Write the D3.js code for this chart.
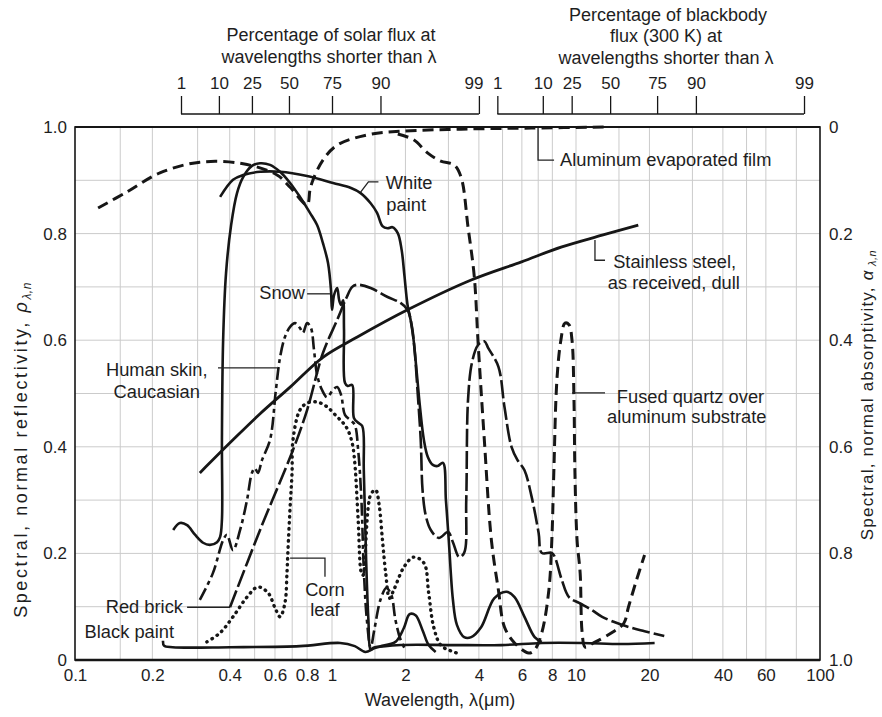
<!DOCTYPE html>
<html><head><meta charset="utf-8">
<script src="https://cdn.jsdelivr.net/npm/d3@7"></script>
<style>
body{margin:0;background:#fff;}
svg text{font-family:"Liberation Sans", Arial, sans-serif;fill:#1e1e1e;}
</style></head><body>
<svg id="c" width="882" height="717"></svg>
<script>
// ---------------- data ----------------
const xTickValues = [0.1,0.2,0.4,0.6,0.8,1,2,4,6,8,10,20,40,60,100];
const xGridValues = [0.15,0.2,0.3,0.4,0.5,0.6,0.7,0.8,1,1.5,2,3,4,5,6,7,8,10,15,20,30,40,50,60,80];
const yTickValues = [0,0.2,0.4,0.6,0.8,1.0];
const yGridValues = [0.1,0.2,0.3,0.4,0.5,0.6,0.7,0.8,0.9];
const solarPct = ["1","10","25","50","75","90","99"];
const solarWl  = [0.2585,0.363,0.488,0.68,1.0,1.58,4.0];
const bbPct    = ["1","10","25","50","75","90","99"];
const bbWl     = [4.76,7.31,9.6,13.8,21.5,31,86];

// spectral normal reflectivity curves [wavelength (um), reflectivity]
const aluminum = [[0.123,0.848],[0.159,0.878],[0.214,0.914],[0.306,0.934],[0.451,0.931],[0.611,0.910],[0.687,0.887],[0.80,0.854],[0.821,0.882],[0.844,0.901],[0.922,0.938],[1.05,0.966],[1.39,0.985],[1.91,0.992],[3.38,0.996],[6.58,0.998],[13.7,1.0]];
const fusedQuartz = [[1.86,0.987],[2.16,0.976],[2.47,0.951],[2.79,0.936],[3.16,0.929],[3.38,0.906],[3.61,0.812],[3.83,0.719],[3.97,0.595],[4.21,0.413],[4.50,0.225],[4.81,0.131],[5.09,0.062],[5.60,0.032],[6.40,0.013],[6.77,0.019],[7.24,0.051],[7.74,0.131],[7.96,0.225],[8.11,0.351],[8.35,0.525],[8.67,0.600],[9.01,0.632],[9.36,0.629],[9.63,0.600],[9.81,0.488],[9.9,0.351],[10.1,0.225],[10.4,0.163],[10.6,0.051],[10.9,0.024],[11.8,0.032],[14.0,0.051],[15.7,0.069],[16.4,0.099],[17.7,0.150],[19.1,0.197]];
const whitePaint = [[0.367,0.869],[0.412,0.901],[0.451,0.910],[0.525,0.916],[0.628,0.916],[0.80,0.908],[1.01,0.895],[1.19,0.886],[1.31,0.876],[1.44,0.857],[1.53,0.839],[1.61,0.814],[1.69,0.810],[1.77,0.812],[1.86,0.801],[1.93,0.769],[1.98,0.722],[2.04,0.666],[2.10,0.638],[2.16,0.600],[2.22,0.544],[2.29,0.478],[2.38,0.413],[2.47,0.381],[2.59,0.366],[2.71,0.364],[2.85,0.370],[2.93,0.300],[3.01,0.225],[3.13,0.113],[3.25,0.066],[3.48,0.043],[3.72,0.043],[4.09,0.062],[4.63,0.116],[5.19,0.128],[5.60,0.118],[6.15,0.081],[6.77,0.043],[7.24,0.034]];
const snow = [[0.241,0.244],[0.256,0.257],[0.273,0.253],[0.293,0.235],[0.315,0.220],[0.335,0.216],[0.357,0.221],[0.367,0.231],[0.373,0.263],[0.373,0.413],[0.377,0.600],[0.387,0.726],[0.405,0.816],[0.427,0.876],[0.451,0.906],[0.488,0.927],[0.525,0.932],[0.574,0.929],[0.628,0.916],[0.687,0.895],[0.750,0.869],[0.821,0.839],[0.875,0.816],[0.922,0.782],[0.965,0.745],[0.991,0.694],[1.0,0.657],[1.02,0.685],[1.05,0.698],[1.07,0.675],[1.09,0.666],[1.11,0.675],[1.12,0.619],[1.13,0.520],[1.16,0.514],[1.21,0.516],[1.23,0.454],[1.28,0.445],[1.33,0.439],[1.35,0.356],[1.38,0.188],[1.41,0.075],[1.44,0.019],[1.48,0.023],[1.58,0.026],[1.82,0.034],[1.97,0.06],[2.08,0.086],[2.20,0.084],[2.35,0.056],[2.49,0.028],[2.66,0.015]];
const stainlessSteel = [[0.306,0.351],[0.412,0.413],[0.525,0.462],[0.687,0.512],[0.922,0.568],[1.27,0.606],[2.04,0.657],[3.72,0.713],[5.98,0.747],[8.75,0.775],[12.8,0.797],[18.0,0.816]];
const humanSkin = [[0.306,0.113],[0.344,0.163],[0.377,0.225],[0.390,0.235],[0.412,0.206],[0.439,0.244],[0.467,0.300],[0.488,0.351],[0.501,0.360],[0.515,0.351],[0.534,0.375],[0.574,0.413],[0.605,0.507],[0.628,0.568],[0.656,0.606],[0.687,0.625],[0.718,0.632],[0.750,0.623],[0.771,0.614],[0.80,0.632],[0.828,0.623],[0.851,0.582],[0.875,0.535],[0.914,0.507],[0.957,0.493],[1.01,0.507],[1.05,0.512],[1.09,0.497],[1.13,0.460],[1.19,0.450],[1.24,0.441],[1.28,0.394],[1.32,0.300],[1.35,0.169],[1.39,0.075],[1.44,0.023],[1.49,0.056],[1.58,0.113],[1.67,0.135],[1.75,0.122],[1.82,0.075],[1.91,0.038],[2.0,0.019]];
const redBrick = [[0.401,0.099],[0.525,0.244],[0.705,0.394],[0.80,0.469],[0.922,0.576],[1.05,0.638],[1.15,0.681],[1.21,0.700],[1.27,0.704],[1.44,0.698],[1.69,0.681],[1.91,0.670],[2.04,0.657],[2.12,0.629],[2.18,0.582],[2.24,0.507],[2.31,0.413],[2.35,0.319],[2.42,0.272],[2.54,0.244],[2.74,0.229],[2.99,0.240],[3.13,0.221],[3.32,0.193],[3.48,0.201],[3.55,0.300],[3.61,0.488],[3.75,0.559],[3.97,0.591],[4.21,0.598],[4.37,0.585],[4.81,0.550],[5.09,0.475],[5.44,0.400],[5.76,0.375],[6.15,0.356],[6.58,0.306],[7.03,0.238],[7.24,0.201],[7.96,0.201],[8.19,0.193],[8.75,0.150],[9.36,0.118],[10.3,0.107],[11.6,0.094],[12.8,0.081],[15.4,0.066],[19.1,0.054],[23.0,0.045]];
const cornLeaf = [[0.326,0.034],[0.367,0.051],[0.412,0.081],[0.467,0.118],[0.515,0.137],[0.564,0.126],[0.600,0.098],[0.628,0.081],[0.656,0.107],[0.668,0.163],[0.674,0.206],[0.687,0.287],[0.699,0.351],[0.705,0.413],[0.750,0.469],[0.80,0.482],[0.875,0.484],[0.957,0.475],[1.05,0.456],[1.11,0.445],[1.16,0.432],[1.21,0.407],[1.24,0.370],[1.28,0.263],[1.32,0.163],[1.34,0.159],[1.44,0.310],[1.51,0.319],[1.56,0.291],[1.61,0.225],[1.66,0.163],[1.72,0.116],[1.79,0.131],[1.97,0.174],[2.16,0.193],[2.38,0.182],[2.49,0.126],[2.61,0.062],[2.79,0.028],[3.07,0.017],[3.38,0.011]];
const blackPaint = [[0.220,0.036],[0.222,0.027],[0.240,0.024],[0.401,0.024],[0.75,0.026],[1.08,0.032],[1.24,0.026],[1.37,0.015],[1.51,0.023],[1.91,0.028],[3.07,0.028],[4.94,0.028],[7.24,0.032],[10.6,0.032],[15.4,0.030],[21.0,0.032]];

// annotations: text lines with anchor [wavelength, reflectivity]
const annotations = [
  {lines:["White","paint"], at:[[1.66,0.884],[1.67,0.842]], anchor:"start", leader:[[1.55,0.897],[1.41,0.897],[1.31,0.878]]},
  {lines:["Snow"], at:[[0.785,0.677]], anchor:"end", leader:[[0.80,0.687],[0.982,0.687]]},
  {lines:["Aluminum evaporated film"], at:[[8.6,0.927]], anchor:"start", leader:[[6.99,0.998],[6.99,0.938],[8.13,0.938]]},
  {lines:["Stainless steel,","as received, dull"], at:[[14.2,0.735],[13.5,0.696]], anchor:"start", leader:[[11.96,0.788],[11.96,0.750],[13.15,0.750]]},
  {lines:["Fused quartz over","aluminum substrate"], at:[[14.7,0.482],[13.4,0.445]], anchor:"start", leader:[[9.63,0.501],[13.15,0.501]]},
  {lines:["Human skin,","Caucasian"], at:[[0.208,0.533],[0.208,0.492]], anchor:"middle", leader:[[0.360,0.548],[0.611,0.548]]},
  {lines:["Corn","leaf"], at:[[0.939,0.120],[0.939,0.083]], anchor:"middle", leader:[[0.687,0.191],[0.939,0.191],[0.939,0.156]]},
  {lines:["Red brick"], at:[[0.263,0.088]], anchor:"end", leader:[[0.273,0.099],[0.401,0.099]]},
  {lines:["Black paint"], at:[[0.109,0.041]], anchor:"start", leader:null}
];

// ---------------- chart ----------------
const svg = d3.select("#c");
const x = d3.scaleLog().domain([0.1,1,10,100]).range([75,332,576,820]);
const y = d3.scaleLinear().domain([0,1]).range([660,127]);
const yAbs = d3.scaleLinear().domain([1,0]).range([660,127]);
const ink = "#161616";

// grid
const grid = svg.append("g").attr("stroke","#cbcbcb").attr("stroke-width",1);
grid.selectAll("line.v").data(xGridValues).join("line")
  .attr("x1",d=>x(d)).attr("x2",d=>x(d)).attr("y1",y(1)).attr("y2",y(0));
grid.selectAll("line.h").data(yGridValues).join("line")
  .attr("x1",x(0.1)).attr("x2",x(100)).attr("y1",d=>y(d)).attr("y2",d=>y(d));

// frame
svg.append("rect").attr("x",x(0.1)).attr("y",y(1)).attr("width",x(100)-x(0.1)).attr("height",y(0)-y(1))
  .attr("fill","none").attr("stroke",ink).attr("stroke-width",1.6);
svg.append("line").attr("x1",x(0.1)).attr("x2",x(100)).attr("y1",y(0)).attr("y2",y(0)).attr("stroke",ink).attr("stroke-width",2.4);
svg.append("line").attr("x1",x(0.1)).attr("x2",x(100)).attr("y1",y(1)).attr("y2",y(1)).attr("stroke",ink).attr("stroke-width",2.2);

// axes
function styleAxis(g, size){
  g.select(".domain").remove();
  g.selectAll("text").style("font-family",'"Liberation Sans", Arial, sans-serif').style("font-size",size+"px").attr("fill","#1e1e1e");
}
const fmtY = d => d===0 ? "0" : d.toFixed(1);
svg.append("g").attr("transform",`translate(${x(0.1)},0)`)
  .call(d3.axisLeft(y).tickValues(yTickValues).tickFormat(fmtY).tickSize(0).tickPadding(8))
  .call(g=>styleAxis(g,17));
svg.append("g").attr("transform",`translate(${x(100)},0)`)
  .call(d3.axisRight(yAbs).tickValues(yTickValues).tickFormat(fmtY).tickSize(0).tickPadding(9))
  .call(g=>styleAxis(g,17));
svg.append("g").attr("transform",`translate(0,${y(0)})`)
  .call(d3.axisBottom(x).tickValues(xTickValues).tickFormat(d=>String(d)).tickSize(0).tickPadding(9))
  .call(g=>styleAxis(g,17));

// top percentage brackets
function bracket(wl, pct, lastEnd){
  const base = 114;
  const g = svg.append("g").attr("transform",`translate(0,${base})`)
    .call(d3.axisTop(x).tickValues(wl).tickFormat((d,i)=>pct[i]).tickSize(18).tickPadding(7))
    .call(g=>styleAxis(g,17));
  g.selectAll(".tick line").attr("stroke",ink).attr("stroke-width",1.3);
  if(lastEnd){ g.selectAll(".tick text").filter((d,i)=>i===wl.length-1).attr("text-anchor","end").attr("x",4); }
  svg.append("line").attr("x1",x(wl[0])).attr("x2",x(wl[wl.length-1])).attr("y1",base).attr("y2",base)
    .attr("stroke",ink).attr("stroke-width",1.3);
}
bracket(solarWl, solarPct, true);
bracket(bbWl, bbPct, false);

// titles
const T = (txt, px, py, size, anchor) =>
  svg.append("text").attr("x",px).attr("y",py).attr("font-size",size).attr("text-anchor",anchor||"middle").text(txt);
T("Percentage of solar flux at",331,41,18);
T("wavelengths shorter than λ",329,63,18);
T("Percentage of blackbody",668,21,18);
T("flux (300 K) at",666,42,18);
T("wavelengths shorter than λ",666,64,18);
T("Wavelength, λ(μm)",440,706,18);

const yl = svg.append("text").attr("transform","translate(27,450) rotate(-90)").attr("text-anchor","middle")
  .attr("font-size",18).attr("letter-spacing",2.6);
yl.append("tspan").text("Spectral, normal reflectivity, ");
yl.append("tspan").attr("font-style","italic").text("ρ");
yl.append("tspan").attr("font-size",12).attr("dy",4).attr("font-style","italic").attr("letter-spacing",0.5).text("λ,n");
const yr = svg.append("text").attr("transform","translate(873,395) rotate(-90)").attr("text-anchor","middle")
  .attr("font-size",17).attr("letter-spacing",1.2).attr("fill","#333");
yr.append("tspan").text("Spectral, normal absorptivity, ");
yr.append("tspan").attr("font-style","italic").text("α");
yr.append("tspan").attr("font-size",11).attr("dy",3).attr("font-style","italic").attr("letter-spacing",0.5).text(" λ,n");

// curves
const line = d3.line().x(d=>x(d[0])).y(d=>y(d[1])).curve(d3.curveCatmullRom.alpha(0.5));
const curves = svg.append("g").attr("fill","none").attr("stroke",ink).attr("stroke-linejoin","round");
function draw(data, width, dash, cap){
  curves.append("path").datum(data).attr("d",line).attr("stroke-width",width)
    .attr("stroke-dasharray",dash||null).attr("stroke-linecap",cap||"butt");
}
draw(blackPaint, 2.6);
draw(stainlessSteel, 2.8);
draw(whitePaint, 2.6);
draw(snow, 2.6);
draw(redBrick, 2.6, "18,4");
draw(humanSkin, 2.6, "13,4,4,4");
draw(cornLeaf, 3.4, "0.5,5.5", "round");
draw(aluminum, 3, "11,6");
draw(fusedQuartz, 3, "11,6");

// annotations
const ann = svg.append("g");
annotations.forEach(a=>{
  if(a.leader){
    ann.append("path").attr("d",d3.line().x(d=>x(d[0])).y(d=>y(d[1]))(a.leader))
      .attr("fill","none").attr("stroke","#222").attr("stroke-width",1.3);
  }
  a.lines.forEach((s,i)=>{
    ann.append("text").attr("x",x(a.at[i][0])).attr("y",y(a.at[i][1])).attr("text-anchor",a.anchor)
      .attr("font-size",18.3).text(s);
  });
});
</script>
</body></html>
